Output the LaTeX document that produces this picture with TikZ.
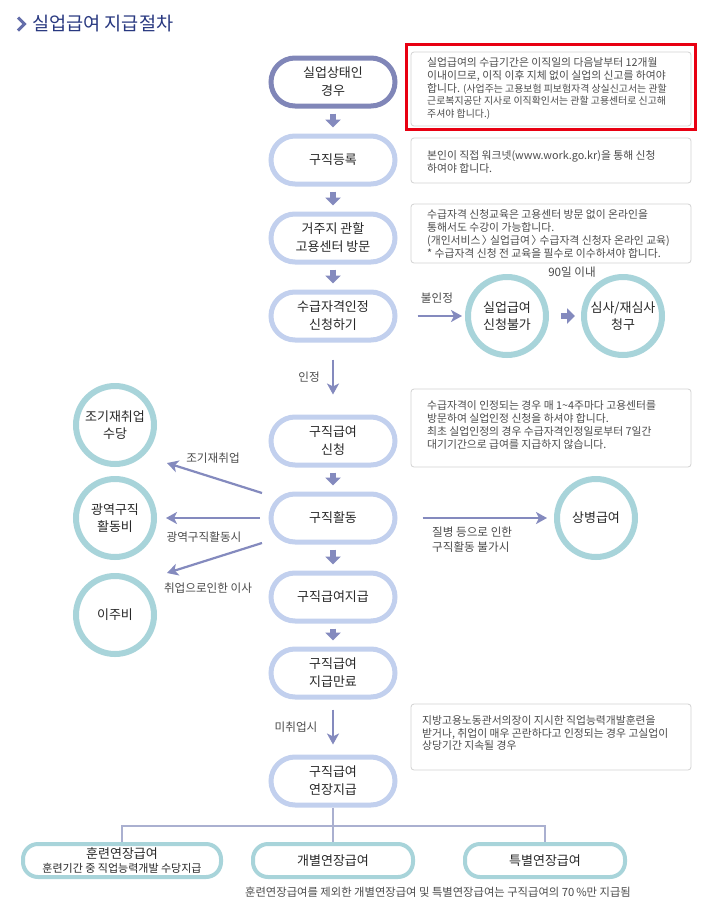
\documentclass[tikz,border=0pt]{standalone}
\usepackage{fontspec}
\setmainfont{Noto Sans CJK KR}
\usetikzlibrary{arrows.meta}
\definecolor{stepdark}{RGB}{128,134,184}
\definecolor{steplight}{RGB}{194,208,238}
\definecolor{arrowc}{RGB}{132,138,190}
\definecolor{tealc}{RGB}{168,212,218}
\definecolor{infobd}{RGB}{210,210,210}
\definecolor{infotx}{RGB}{75,75,75}
\definecolor{titlec}{RGB}{40,56,128}
\definecolor{chevc}{RGB}{100,110,170}
\definecolor{redc}{RGB}{232,0,18}
\definecolor{linec}{RGB}{170,176,208}
\definecolor{darktx}{RGB}{40,40,40}
\newcommand\myrang{\kern-0.1em〉\kern-0.45em}
\tikzset{
  stepbox/.style={draw=steplight, line width=5pt, rounded corners=24pt, minimum width=124pt, minimum height=48pt, align=center, font=\fontsize{13}{18}\selectfont, text=darktx, fill=white, inner sep=0pt},
  circ/.style={circle, draw=tealc, line width=6pt, minimum size=78pt, align=center, font=\fontsize{13}{17}\selectfont, text=darktx, inner sep=0pt},
  endbox/.style={draw=tealc, line width=4pt, rounded corners=15pt, minimum height=33pt, align=center, font=\fontsize{13}{16}\selectfont, text=darktx, inner sep=0pt},
  infobox/.style={draw=infobd, line width=0.8pt, rounded corners=3pt, minimum width=280pt},
  infotext/.style={anchor=west, align=left, text=infotx, font=\fontsize{10.8}{12.8}\selectfont, inner sep=0pt},
  lbl/.style={text=infotx, font=\fontsize{11.6}{15}\selectfont, inner sep=0pt, align=center},
  blockarr/.style={draw=arrowc, line width=6.5pt, -{Triangle[length=8pt,width=15pt]}},
  thinarr/.style={draw=arrowc, line width=2.2pt, -{Stealth[length=11pt,width=12pt,inset=3pt]}},
  tree/.style={draw=linec, line width=1.2pt}
}
\begin{document}
\begin{tikzpicture}[x=1pt,y=-1pt]
\useasboundingbox[fill=white] (0,0) rectangle (711,911);
% title
\draw[chevc, line width=3pt] (18,17.5) -- (24.5,24) -- (18,30.5);
\node[anchor=west, text=titlec, font=\fontsize{18.6}{22}\selectfont, inner sep=0pt] (title) at (32,24) {실업급여 지급절차};

% main column
\node[stepbox, draw=stepdark] (b1) at (333,82) {실업상태인\\경우};
\node[stepbox] (b2) at (333,160) {구직등록};
\node[stepbox] (b3) at (333,238) {거주지 관할\\고용센터 방문};
\node[stepbox] (b4) at (333,316) {수급자격인정\\신청하기};
\node[stepbox] (b5) at (333,441) {구직급여\\신청};
\node[stepbox] (b6) at (333,518) {구직활동};
\node[stepbox] (b7) at (333,597) {구직급여지급};
\node[stepbox] (b8) at (333,673) {구직급여\\지급만료};
\node[stepbox] (b9) at (333,781) {구직급여\\연장지급};

\foreach \a/\b in {b1/b2,b2/b3,b3/b4,b5/b6,b6/b7,b7/b8}
  \draw[blockarr, shorten <=5pt, shorten >=6pt] (\a.south) -- (\b.north);
\draw[thinarr, shorten <=17pt, shorten >=20pt] (b4.south) -- (b5.north);
\node[lbl] (t4) at (309,377) {인정};
\draw[thinarr, shorten <=10pt, shorten >=10pt] (b8.south) -- (b9.north);
\node[lbl] (t5) at (296,727) {미취업시};

% info boxes
\node[draw=redc, line width=3pt, minimum width=289pt, minimum height=85pt, inner sep=0pt] (redframe) at (551,87) {};
\node[infobox, minimum height=74pt] (ia) at (551,89) {};
\node[infotext] (iat) at (427,88.5) {실업급여의 수급기간은 이직일의 다음날부터 12개월\\이내이므로, 이직 이후 지체 없이 실업의 신고를 하여야\\합니다. {\fontsize{9.9}{12.8}\selectfont (사업주는 고용보험 피보험자격 상실신고서는 관할}\\{\fontsize{9.9}{12.8}\selectfont 근로복지공단 지사로 이직확인서는 관할 고용센터로 신고해}\\{\fontsize{9.9}{12.8}\selectfont 주셔야 합니다.)}};
\node[infobox, minimum height=45pt] (ib) at (551,160.5) {};
\node[infotext] (ibt) at (427,162) {본인이 직접 워크넷(www.work.go.kr)을 통해 신청\\하여야 합니다.};
\node[infobox, minimum height=59pt] (ic) at (551,233.5) {};
\node[infotext] (ict) at (427,234) {수급자격 신청교육은 고용센터 방문 없이 온라인을\\통해서도 수강이 가능합니다.\\(개인서비스 \myrang{} 실업급여 \myrang{} 수급자격 신청자 온라인 교육)\\* 수급자격 신청 전 교육을 필수로 이수하셔야 합니다.};
\node[infobox, minimum height=78pt] (id) at (551,428) {};
\node[infotext] (idt) at (427,425) {수급자격이 인정되는 경우 매 1\textasciitilde4주마다 고용센터를\\방문하여 실업인정 신청을 하셔야 합니다.\\최초 실업인정의 경우 수급자격인정일로부터 7일간\\대기기간으로 급여를 지급하지 않습니다.};
\node[infobox, minimum height=66pt] (ie) at (551,737) {};
\node[infotext] (iet) at (422,733) {지방고용노동관서의장이 지시한 직업능력개발훈련을\\받거나, 취업이 매우 곤란하다고 인정되는 경우 고실업이\\상당기간 지속될 경우};

% rejection branch
\node[circ] (c1) at (507,316) {실업급여\\신청불가};
\node[circ] (c2) at (623,316) {심사/재심사\\청구};
\draw[thinarr, shorten <=20pt, shorten >=3pt] (b4.east) -- (c1.west);
\node[lbl] (t6) at (437,298) {불인정};
\draw[blockarr, shorten <=12pt, shorten >=6pt] (c1.east) -- (c2.west);
\node[lbl] (t7) at (572,272) {90일 이내};

% sickness
\node[circ] (cs) at (596,518) {상병급여};
\draw[thinarr, shorten <=25pt, shorten >=7pt] (b6.east) -- (cs.west);
\node[lbl, anchor=west, align=left] (t8) at (432,540) {질병 등으로 인한\\구직활동 불가시};

% left circles
\node[circ] (l1) at (115,425) {조기재취업\\수당};
\node[circ] (l2) at (115,518) {광역구직\\활동비};
\node[circ] (l3) at (115,615) {이주비};
\coordinate (l1s) at (262,493);
\coordinate (l1e) at (167,463);
\coordinate (l3s) at (262,543);
\coordinate (l3e) at (167,573);
\draw[thinarr] (l1s) -- (l1e);
\draw[thinarr, shorten <=9pt, shorten >=9pt] (b6.west) -- (l2.east);
\draw[thinarr] (l3s) -- (l3e);
\node[lbl] (t1) at (213,458) {조기재취업};
\node[lbl] (t2) at (204,537) {광역구직활동시};
\node[lbl] (t3) at (208,588) {취업으로인한 이사};

% extension tree
\node[endbox, minimum width=198pt] (e1) at (122,860.5) {훈련연장급여\\[-2pt]{\fontsize{11}{13}\selectfont 훈련기간 중 직업능력개발 수당지급}};
\node[endbox, minimum width=160pt] (e2) at (333,860.5) {개별연장급여};
\node[endbox, minimum width=160pt] (e3) at (545,860.5) {특별연장급여};
\coordinate (hub) at (333,826);
\draw[tree] (b9.south) -- (hub);
\draw[tree] (e1.north) |- (hub) -| (e3.north);
\draw[tree] (hub) -- (e2.north);
\node[lbl, font=\fontsize{11.3}{13}\selectfont] (note) at (438,892) {훈련연장급여를 제외한 개별연장급여 및 특별연장급여는 구직급여의 70\,\%만 지급됨};
\end{tikzpicture}
\end{document}
